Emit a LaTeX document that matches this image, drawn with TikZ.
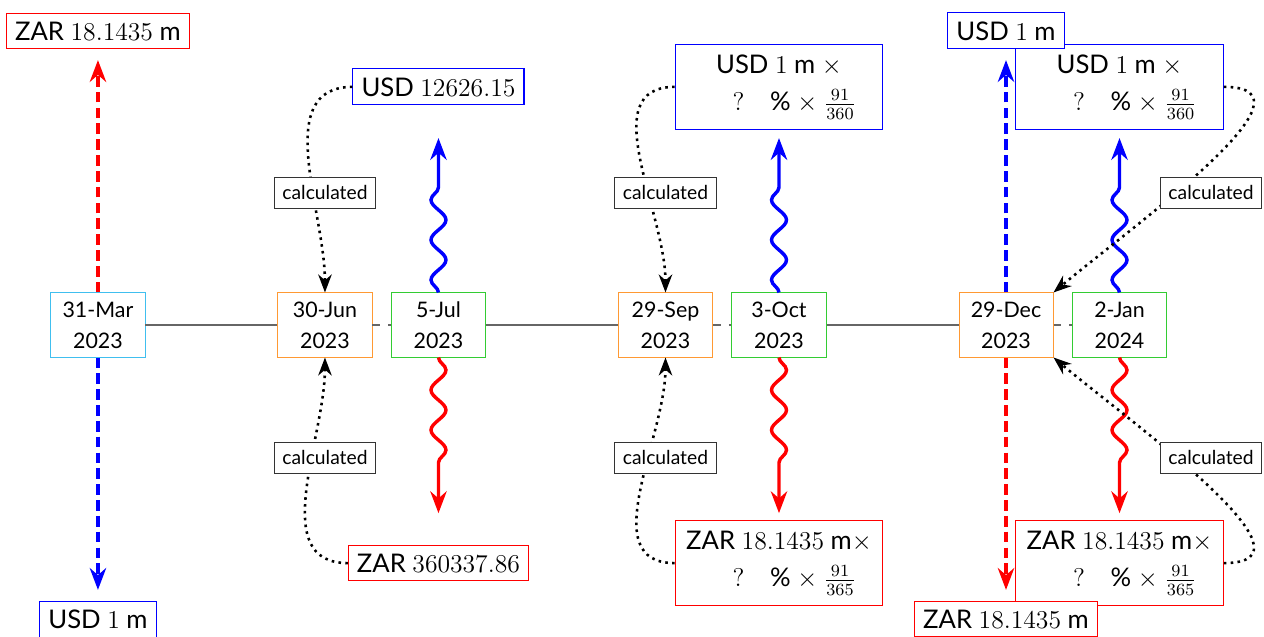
\documentclass[tikz,border=0pt]{standalone}
\usepackage[no-math]{fontspec}
\setmainfont{Lato}
\usetikzlibrary{arrows.meta, decorations.pathmorphing}
\definecolor{startline}{HTML}{40BFEF}
\definecolor{fixline}{HTML}{FF9933}
\definecolor{payline}{HTML}{33CC33}
\definecolor{axisgray}{HTML}{666666}
\newcommand{\usdrate}{\hspace*{1.2em}$?\quad$\% $\times$ $\frac{91}{360}$}
\newcommand{\zarrate}{\hspace*{1.2em}$?\quad$\% $\times$ $\frac{91}{365}$}
\tikzset{
  datebox/.style  = {rectangle, draw, thin, fill=white, align=center,
                     font=\fontsize{10}{14.5}\selectfont, minimum width=44pt,
                     minimum height=30pt, inner sep=2pt},
  startdate/.style= {datebox, draw=startline},
  fixdate/.style  = {datebox, draw=fixline},
  paydate/.style  = {datebox, draw=payline},
  amt/.style      = {rectangle, line width=0.5pt, fill=white, align=center, font=\large, inner sep=4pt},
  zaramt/.style   = {amt, draw=red},
  usdamt/.style   = {amt, draw=blue},
  legbox/.style   = {minimum width=97pt, minimum height=39.7pt},
  calcbox/.style  = {rectangle, solid, draw=black!80, thin, fill=white, font=\small,
                     inner xsep=3.8pt, inner ysep=4pt},
  calcline/.style = {very thick, dotted, -{Stealth}},
  notional/.style = {ultra thick, dash pattern=on 5pt off 2.4pt, -{Stealth}},
  coupon/.style   = {ultra thick, -{Stealth}, decorate,
                     decoration={snake, segment length=18.7pt, amplitude=3.5pt, post length=17pt}},
  timeline/.style = {draw=axisgray, line width=0.5pt},
  stubline/.style = {timeline, dash pattern=on 3.7pt off 3.7pt},
}
\begin{document}
\begin{tikzpicture}[x=1.864cm, y=1cm]
  \useasboundingbox (-0.863,-5.12) rectangle (10.273,5.337);
  % dates
  \node[startdate] (mar) at (0,0) {31-Mar\\2023};
  \node[fixdate]   (jun) at (2,0) {30-Jun\\2023};
  \node[paydate]   (jul) at (3,0) {5-Jul\\2023};
  \node[fixdate]   (sep) at (5,0) {29-Sep\\2023};
  \node[paydate]   (oct) at (6,0) {3-Oct\\2023};
  \node[fixdate]   (dec) at (8,0) {29-Dec\\2023};
  \node[paydate]   (jan) at (9,0) {2-Jan\\2024};
  \foreach \a/\b/\s in {mar/jun/timeline, jun/jul/stubline, jul/sep/timeline,
                        sep/oct/stubline, oct/dec/timeline, dec/jan/stubline}{\draw[\s] (\a) -- (\b);}

  % cash flows
  \node[zaramt] (zarIn)  at (0,4.83)  {ZAR $18.1435$ m};
  \node[usdamt] (usdOut) at (0,-4.83) {USD $1$ m};
  \node[usdamt] (usdFix) at (3,3.91)  {USD $12626.15$};
  \node[zaramt] (zarFix) at (3,-3.91) {ZAR $360337.86$};
  \foreach \x/\n in {6/A, 9/B}{
    \node[usdamt, legbox] (usdFlt\n) at (\x,3.91)  {USD $1$ m $\times$\\[3.4pt]\usdrate};
    \node[zaramt, legbox] (zarFlt\n) at (\x,-3.91) {ZAR $18.1435$ m$\times$\\[3.4pt]\zarrate};}
  \node[usdamt] (usdEnd) at (8,4.83)  {USD $1$ m};
  \node[zaramt] (zarEnd) at (8,-4.83) {ZAR $18.1435$ m};

  \foreach \d/\x in {mar/0, dec/8}{
    \coordinate (\d Up) at (\x,4.35);
    \coordinate (\d Dn) at (\x,-4.35);}
  \foreach \d/\x in {jul/3, oct/6, jan/9}{
    \coordinate (\d Up) at (\x,3.07);
    \coordinate (\d Dn) at (\x,-3.09);}
  \draw[notional, red]  (mar.north) -- (marUp);
  \draw[notional, blue] (mar.south) -- (marDn);
  \draw[notional, blue] (dec.north) -- (decUp);
  \draw[notional, red]  (dec.south) -- (decDn);
  \foreach \d in {jul, oct, jan}{
    \draw[coupon, blue] (\d.north) -- (\d Up);
    \draw[coupon, red]  (\d.south) -- (\d Dn);}

  % fixings
  \draw[calcline] (usdFix.west) to[out=180, in=90] (jun.north)
    node[calcbox] (calcJunA) at (2,2.17) {calculated};
  \draw[calcline] (zarFix.west) to[out=180, in=-90] (jun.south)
    node[calcbox] (calcJunB) at (2,-2.18) {calculated};
  \draw[calcline] (usdFltA.west) to[out=180, in=90] (sep.north)
    node[calcbox] (calcSepA) at (5,2.17) {calculated};
  \draw[calcline] (zarFltA.west) to[out=180, in=-90] (sep.south)
    node[calcbox] (calcSepB) at (5,-2.18) {calculated};
  \draw[calcline] (usdFltB.east) to[out=0, in=40] (dec.north east)
    node[calcbox] (calcDecA) at (9.806,2.17) {calculated};
  \draw[calcline] (zarFltB.east) to[out=0, in=-40] (dec.south east)
    node[calcbox] (calcDecB) at (9.806,-2.18) {calculated};
\end{tikzpicture}
\end{document}
